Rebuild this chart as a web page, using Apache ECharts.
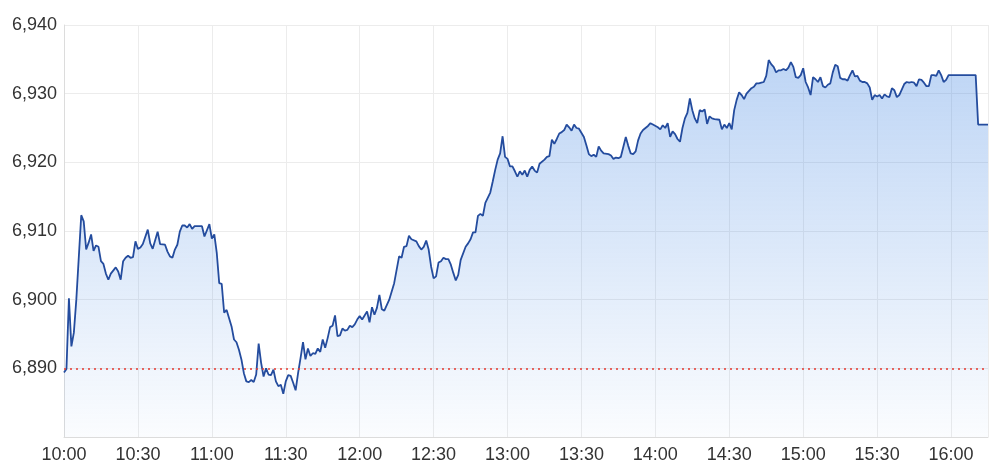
<!DOCTYPE html>
<html>
<head>
<meta charset="utf-8">
<script src="https://cdn.jsdelivr.net/npm/echarts@6/dist/echarts.min.js"></script>
<style>
  html, body { margin: 0; padding: 0; background: #fff; }
  #chart { width: 1000px; height: 475px; }
</style>
</head>
<body>
<div id="chart"></div>
<script>
// minutes after the 10:00 open
var minutesFromOpen = [
  0, 1, 2, 3, 4, 5, 7, 8, 9, 10, 11, 12, 13, 14, 15, 16, 17, 18, 19, 21,
  22, 23, 24, 25, 26, 27, 28, 29, 30, 31, 32, 34, 35, 36, 38, 39, 41, 42, 43, 44,
  45, 46, 47, 48, 49, 50, 51, 52, 53, 56, 57, 59, 60, 61, 62, 63, 64, 65, 66, 67,
  68, 69, 70, 71, 72, 73, 74, 75, 76, 77, 78, 79, 80, 81, 82, 83, 84, 85, 86, 87,
  88, 89, 90, 91, 92, 93, 94, 95, 96, 97, 98, 99, 100, 101, 102, 103, 104, 105, 106, 107,
  108, 109, 110, 111, 112, 113, 114, 115, 116, 117, 118, 119, 120, 121, 122, 123, 124, 125, 126, 127,
  128, 129, 130, 132, 134, 136, 137, 138, 139, 140, 141, 143, 144, 145, 146, 147, 148, 149, 150, 151,
  152, 153, 154, 155, 156, 157, 158, 159, 160, 161, 163, 164, 165, 166, 167, 168, 169, 170, 171, 173,
  174, 175, 176, 177, 178, 179, 180, 181, 182, 183, 184, 185, 186, 187, 188, 189, 190, 191, 192, 193,
  195, 196, 197, 198, 199, 200, 201, 202, 203, 204, 205, 206, 207, 208, 209, 211, 212, 213, 214, 215,
  216, 217, 218, 219, 221, 222, 223, 224, 225, 226, 228, 229, 230, 231, 232, 233, 234, 235, 236, 237,
  238, 239, 241, 242, 243, 244, 245, 246, 247, 248, 249, 250, 251, 252, 253, 254, 255, 256, 257, 258,
  259, 260, 261, 262, 263, 264, 266, 267, 268, 269, 270, 271, 272, 273, 274, 275, 276, 277, 278, 279,
  280, 281, 282, 283, 284, 285, 286, 287, 288, 289, 290, 291, 292, 293, 294, 295, 296, 297, 298, 299,
  300, 301, 302, 303, 304, 305, 306, 307, 308, 309, 310, 311, 312, 313, 314, 315, 316, 317, 318, 319,
  320, 321, 322, 323, 324, 325, 326, 327, 328, 329, 330, 331, 332, 333, 334, 335, 336, 337, 338, 339,
  340, 341, 342, 343, 344, 345, 346, 347, 348, 349, 350, 351, 352, 353, 354, 355, 356, 357, 358, 359,
  370, 371, 375
];

var prices = [
  6889.4, 6889.9, 6900.2, 6893.2, 6895.2, 6900.0, 6912.3, 6911.4, 6907.3, 6908.3, 6909.5, 6907.1, 6907.9, 6907.7, 6905.6, 6905.2, 6903.8, 6902.9, 6903.8, 6904.7,
  6904.1, 6902.9, 6905.6, 6906.1, 6906.4, 6906.1, 6906.2, 6908.5, 6907.4, 6907.6, 6908.1, 6910.2, 6908.2, 6907.4, 6909.9, 6908.1, 6908.0, 6907.0, 6906.3, 6906.1,
  6907.3, 6908.0, 6909.9, 6910.8, 6910.8, 6910.5, 6911.0, 6910.3, 6910.7, 6910.7, 6909.2, 6911.0, 6908.9, 6909.5, 6906.8, 6902.4, 6902.3, 6898.1, 6898.5, 6897.3,
  6896.1, 6894.2, 6893.8, 6892.7, 6891.3, 6889.3, 6888.1, 6888.0, 6888.3, 6888.0, 6889.1, 6893.6, 6890.8, 6888.8, 6890.0, 6889.1, 6889.0, 6889.8, 6888.1, 6887.4,
  6887.6, 6886.3, 6888.1, 6889.0, 6888.9, 6887.9, 6886.8, 6889.3, 6891.5, 6893.8, 6891.3, 6892.9, 6891.8, 6892.2, 6892.1, 6892.9, 6892.4, 6894.2, 6893.0, 6894.4,
  6896.0, 6896.2, 6897.7, 6894.7, 6894.8, 6895.8, 6895.5, 6895.6, 6896.2, 6896.0, 6896.4, 6897.1, 6897.6, 6897.1, 6897.7, 6898.3, 6896.7, 6898.9, 6897.8, 6898.8,
  6900.7, 6898.6, 6898.4, 6900.0, 6902.4, 6906.3, 6906.1, 6907.7, 6907.8, 6909.3, 6908.8, 6908.5, 6907.8, 6907.3, 6907.7, 6908.6, 6907.3, 6904.8, 6903.1, 6903.4,
  6905.4, 6905.6, 6906.1, 6905.9, 6905.9, 6905.1, 6903.9, 6902.8, 6903.6, 6905.8, 6907.7, 6908.2, 6908.8, 6909.8, 6909.8, 6912.2, 6912.5, 6912.2, 6914.1, 6915.6,
  6917.2, 6918.9, 6920.4, 6921.3, 6923.8, 6920.8, 6920.5, 6919.4, 6919.4, 6918.7, 6917.9, 6918.7, 6918.2, 6918.8, 6917.9, 6918.9, 6919.4, 6918.8, 6918.5, 6919.8,
  6920.4, 6920.8, 6920.9, 6923.3, 6922.7, 6923.4, 6924.2, 6924.4, 6924.7, 6925.5, 6925.1, 6924.6, 6925.5, 6925.0, 6924.9, 6923.7, 6922.5, 6921.2, 6920.9, 6921.1,
  6920.8, 6922.3, 6921.7, 6921.3, 6921.2, 6921.0, 6920.5, 6920.7, 6920.6, 6920.8, 6923.7, 6922.4, 6921.3, 6921.2, 6921.6, 6923.2, 6924.2, 6924.7, 6925.0, 6925.3,
  6925.7, 6925.5, 6925.1, 6924.8, 6925.4, 6925.0, 6925.7, 6923.7, 6924.5, 6924.1, 6923.4, 6923.0, 6925.0, 6926.4, 6927.2, 6929.3, 6927.6, 6926.4, 6925.7, 6927.6,
  6927.4, 6927.7, 6925.6, 6926.7, 6926.4, 6926.3, 6926.2, 6924.8, 6925.5, 6925.0, 6925.7, 6924.8, 6927.6, 6929.1, 6930.2, 6929.8, 6929.2, 6930.0, 6930.4, 6930.8,
  6931.0, 6931.5, 6931.5, 6931.6, 6931.7, 6932.6, 6934.9, 6934.3, 6933.9, 6933.1, 6933.4, 6933.4, 6933.6, 6933.4, 6933.8, 6934.6, 6933.9, 6932.4, 6932.3, 6932.7,
  6933.7, 6931.7, 6930.9, 6929.8, 6932.4, 6932.1, 6931.7, 6932.4, 6931.1, 6930.9, 6931.3, 6931.5, 6933.1, 6934.2, 6934.0, 6932.3, 6932.1, 6932.1, 6931.9, 6932.7,
  6933.4, 6932.5, 6932.6, 6931.9, 6931.7, 6931.7, 6931.5, 6930.9, 6929.1, 6929.8, 6929.6, 6929.8, 6929.3, 6929.9, 6929.6, 6929.5, 6930.8, 6930.5, 6929.5, 6929.8,
  6930.6, 6931.4, 6931.7, 6931.6, 6931.7, 6931.6, 6931.1, 6932.1, 6932.0, 6931.6, 6931.1, 6931.1, 6932.7, 6932.7, 6932.6, 6933.4, 6932.7, 6931.7, 6932.0, 6932.7,
  6932.7, 6925.5, 6925.5
];

var prevClose = 6890;

// axis ranges / ticks
var xTickLabels = ["10:00", "10:30", "11:00", "11:30", "12:00", "12:30", "13:00",
  "13:30", "14:00", "14:30", "15:00", "15:30", "16:00"];
var yTicks = [6880, 6890, 6900, 6910, 6920, 6930, 6940];

var FONT = "Liberation Sans, Arial, sans-serif";

var chart = echarts.init(document.getElementById("chart"));

var seriesData = minutesFromOpen.map(function (m, i) {
  return [m, prices[i]];
});

var option = {
  animation: false,
  grid: {
    left: 64,
    right: 12,
    top: 25,
    bottom: 38,
  },
  xAxis: {
    type: "value",
    min: 0,
    max: 375,
    interval: 30,
    axisLine: { show: true, lineStyle: { color: "#dcdcdc" } },
    axisTick: { show: false },
    splitLine: { show: true, lineStyle: { color: "#ececec" } },
    axisLabel: {
      showMaxLabel: false,
      color: "#333",
      fontSize: 18,
      fontFamily: FONT,
      margin: 9,
      formatter: function (v) {
        return xTickLabels[Math.round(v / 30)] || "";
      },
    },
  },
  yAxis: {
    type: "value",
    min: yTicks[0],
    max: yTicks[yTicks.length - 1],
    interval: 10,
    axisLine: { show: true, lineStyle: { color: "#dcdcdc" } },
    axisTick: { show: false },
    splitLine: { show: true, lineStyle: { color: "#ececec" } },
    axisLabel: {
      showMinLabel: false,
      color: "#333",
      fontSize: 18,
      fontFamily: FONT,
      margin: 7,
      formatter: function (v) {
        return v.toLocaleString("en-US");
      },
    },
  },
  series: [
    {
      type: "line",
      data: seriesData,
      showSymbol: false,
      lineStyle: { color: "#244c9e", width: 1.8 },
      areaStyle: {
        color: new echarts.graphic.LinearGradient(0, 0, 0, 1, [
          { offset: 0, color: "rgba(60,130,225,0.48)" },
          { offset: 1, color: "rgba(60,130,225,0.03)" },
        ]),
      },
      markLine: {
        silent: true,
        symbol: "none",
        label: { show: false },
        lineStyle: { color: "#e53a30", type: [2, 4], width: 1.5 },
        data: [{ yAxis: prevClose }],
      },
    },
  ],
};

chart.setOption(option);
</script>
</body>
</html>
